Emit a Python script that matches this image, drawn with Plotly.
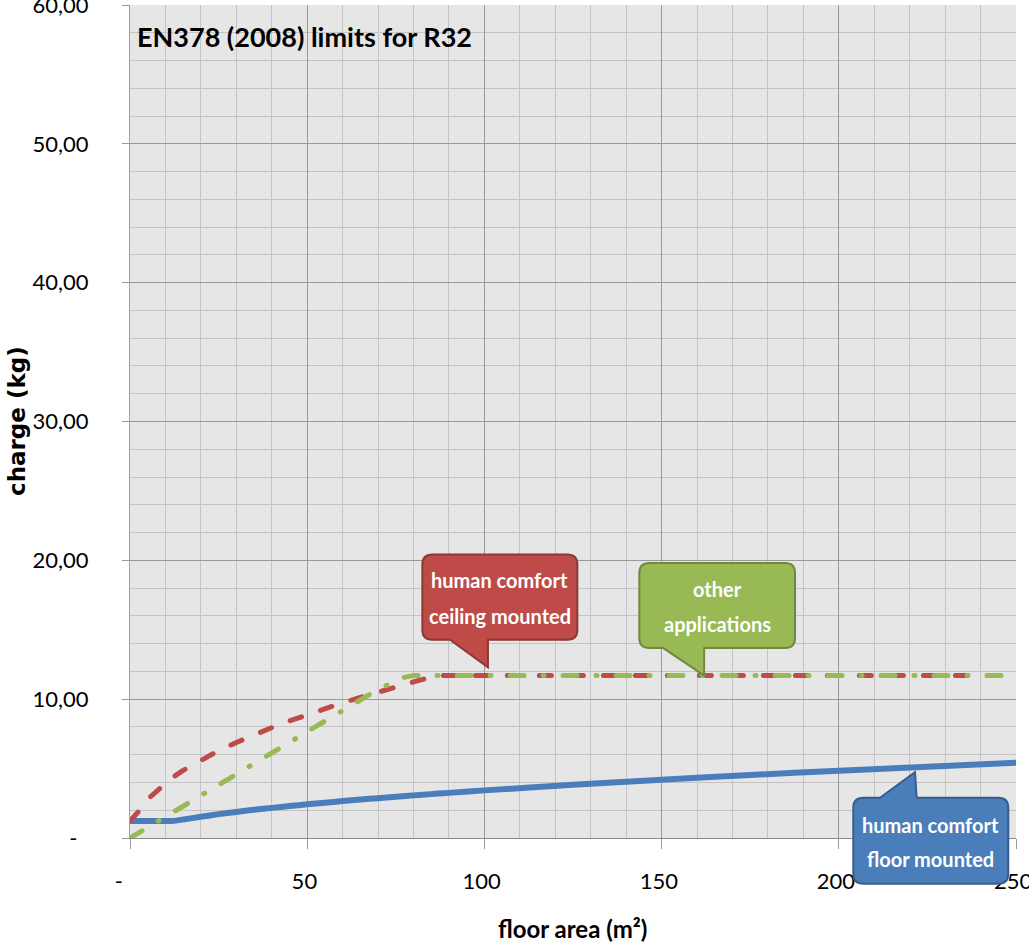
import plotly.graph_objects as go

# ---------------- data ----------------
area = [0, 2, 5, 10, 12, 15, 20, 25, 30, 35, 40, 45, 50, 55, 60, 65, 70, 75, 77,
        80, 85, 87, 90, 100, 125, 150, 175, 200, 225, 250]
floor_mounted = [1.23, 1.23, 1.23, 1.23, 1.23, 1.33, 1.53, 1.72, 1.88, 2.03, 2.17, 2.30,
                 2.43, 2.54, 2.66, 2.77, 2.87, 2.97, 3.01, 3.07, 3.16, 3.20, 3.25, 3.43,
                 3.83, 4.20, 4.54, 4.85, 5.14, 5.42]
ceiling_mounted = [1.23, 1.78, 2.81, 3.97, 4.35, 4.87, 5.62, 6.29, 6.88, 7.44, 7.95, 8.43,
                   8.89, 9.32, 9.74, 10.13, 10.52, 10.89, 11.03, 11.24, 11.59, 11.70, 11.70,
                   11.70, 11.70, 11.70, 11.70, 11.70, 11.70, 11.70]
other_apps = [0.00, 0.31, 0.77, 1.53, 1.84, 2.30, 3.06, 3.83, 4.59, 5.36, 6.12, 6.89,
              7.65, 8.42, 9.18, 9.95, 10.71, 11.30, 11.55, 11.70, 11.70, 11.70, 11.70,
              11.70, 11.70, 11.70, 11.70, 11.70, 11.70, 11.70]

x_ticks = [0, 50, 100, 150, 200, 250]
x_tick_text = ["-\u00a0\u00a0\u00a0\u00a0", "50\u00a0", "100\u00a0", "150\u00a0", "200\u00a0", "250\u00a0"]
y_ticks = [0, 10, 20, 30, 40, 50, 60]
y_tick_text = ["-\u00a0\u00a0", "10,00", "20,00", "30,00", "40,00", "50,00", "60,00"]

title_text = "EN378 (2008) limits for R32"
x_title = "floor area (m²)"
y_title = "charge (kg)"

# ---------------- layout constants ----------------
W, H = 1029, 949
ML, MR, MT, MB = 130, 13, 5, 111
PW, PH = W - ML - MR, H - MT - MB
XMAX, YMAX = 250, 60

FONT = "Lato, sans-serif"

BLUE, RED, GREEN = "#4a7ebb", "#be4b48", "#98b954"

fig = go.Figure()
fig.add_trace(go.Scatter(x=area, y=floor_mounted, mode="lines",
                         line=dict(color=BLUE, width=6, shape="spline", smoothing=0.6),
                         name="floor", hoverinfo="skip"))
fig.add_trace(go.Scatter(x=area, y=ceiling_mounted, mode="lines",
                         line=dict(color=RED, width=5, dash="12px,20px"), name="ceiling",
                         hoverinfo="skip"))
fig.add_trace(go.Scatter(x=area, y=other_apps, mode="lines",
                         line=dict(color=GREEN, width=5, dash="14px,19px,1px,19px"),
                         name="other", hoverinfo="skip"))


def d2px(x, y):
    return ML + x * PW / XMAX, MT + PH - y * PH / YMAX


def px2paper(px, py):
    return (px - ML) / PW, (MT + PH - py) / PH


def callout(tip, box, base, fill, border, lines, text_y, r=10):
    """tip in data coords; box=(dx0,dy0,dx1,dy1) px offsets from tip; base=(bx0,bx1) px offsets."""
    tx, ty = d2px(*tip)
    x0, y0, x1, y1 = tx + box[0], ty + box[1], tx + box[2], ty + box[3]
    b0, b1 = tx + base[0], tx + base[1]
    tail_bottom = box[3] < 0
    seg = [("M", x0 + r, y0)]
    if not tail_bottom:
        seg += [("L", b0, y0), ("L", tx, ty), ("L", b1, y0)]
    seg.append(("L", x1 - r, y0))
    seg.append(("Q", x1, y0, x1, y0 + r))
    seg.append(("L", x1, y1 - r))
    seg.append(("Q", x1, y1, x1 - r, y1))
    if tail_bottom:
        seg += [("L", b1, y1), ("L", tx, ty), ("L", b0, y1)]
    seg.append(("L", x0 + r, y1))
    seg.append(("Q", x0, y1, x0, y1 - r))
    seg.append(("L", x0, y0 + r))
    seg.append(("Q", x0, y0, x0 + r, y0))
    path = ""
    for s in seg:
        coords = s[1:]
        out = []
        for i in range(0, len(coords), 2):
            px, py = px2paper(coords[i], coords[i + 1])
            out.append(f"{px:.5f},{py:.5f}")
        path += s[0] + " ".join(out) + " "
    path += "Z"
    fig.add_shape(type="path", path=path, xref="paper", yref="paper",
                  fillcolor=fill, line=dict(color=border, width=2), layer="above")
    cx = (x0 + x1) / 2
    for line, yy in zip(lines, text_y):
        px, py = px2paper(cx, ty + yy)
        fig.add_annotation(x=px, y=py, xref="paper", yref="paper", text=line,
                           showarrow=False, xanchor="center", yanchor="middle",
                           font=dict(family=FONT, size=20, color="white"))


callout((101, 12.3), (-65.6, -112.8, 89.4, -27.5), (-38, 0), RED, "#8c3836",
        ["<b>human comfort</b>", "<b>ceiling mounted</b>"], [-87, -51])
callout((162, 11.7), (-64.8, -112.5, 90.9, -27.5), (-40.8, 0), GREEN, "#71893f",
        ["<b>other</b>", "<b>applications</b>"], [-87, -52])
callout((221.5, 4.74), (-61.7, 25.6, 93.3, 111.6), (-35, 1.7), BLUE, "#385d8a",
        ["<b>human comfort</b>", "<b>floor mounted</b>"], [53, 87])

# title inside the plot
fig.add_annotation(x=px2paper(135, 37)[0], y=px2paper(135, 37)[1], xref="paper", yref="paper",
                   text=f"<b>{title_text}</b>", showarrow=False, xanchor="left",
                   yanchor="middle", font=dict(family=FONT, size=27, color="black"))
# axis titles
fig.add_annotation(x=px2paper(572, 928)[0], y=px2paper(572, 928)[1], xref="paper",
                   yref="paper", text=f"<b>{x_title}</b>", showarrow=False,
                   xanchor="center", yanchor="middle",
                   font=dict(family=FONT, size=24, color="black"))
fig.add_annotation(x=px2paper(17, 421)[0], y=px2paper(17, 421)[1], xref="paper",
                   yref="paper", text=f"<b>{y_title}</b>", showarrow=False, textangle=-90,
                   xanchor="center", yanchor="middle",
                   font=dict(family="DejaVu Sans", size=23, color="black"))

MAJOR, MINOR = "#999999", "#c4c4c4"
fig.update_layout(
    width=W, height=H, margin=dict(l=ML, r=MR, t=MT, b=MB, autoexpand=False),
    paper_bgcolor="white", plot_bgcolor="#e6e6e6", showlegend=False,
    xaxis=dict(range=[0, XMAX], tickvals=x_ticks, ticktext=x_tick_text, showgrid=True,
               gridcolor=MAJOR, gridwidth=1, ticks="outside", ticklen=10, tickcolor=MAJOR,
               showline=True, linecolor="#888888", linewidth=1, zeroline=False,
               ticklabelstandoff=14, ticklabeloverflow="allow", automargin=False,
               tickfont=dict(family=FONT, size=22, color="black"),
               minor=dict(dtick=10, showgrid=True, gridcolor=MINOR, gridwidth=1, ticks="")),
    yaxis=dict(range=[0, YMAX], tickvals=y_ticks, ticktext=y_tick_text, showgrid=True,
               gridcolor=MAJOR, gridwidth=1, ticks="outside", ticklen=7, tickcolor=MAJOR,
               showline=True, linecolor="#a0a0a0", linewidth=1, zeroline=False,
               ticklabelstandoff=29, ticklabeloverflow="allow", automargin=False,
               tickfont=dict(family=FONT, size=22, color="black"),
               minor=dict(dtick=2, showgrid=True, gridcolor=MINOR, gridwidth=1, ticks="")),
)

post = """
document.querySelectorAll('.scatterlayer path.js-line').forEach(function(p){
  p.style.strokeLinecap='round'; p.style.strokeLinejoin='round';
});
"""
fig.write_html("out.html", post_script=post)
